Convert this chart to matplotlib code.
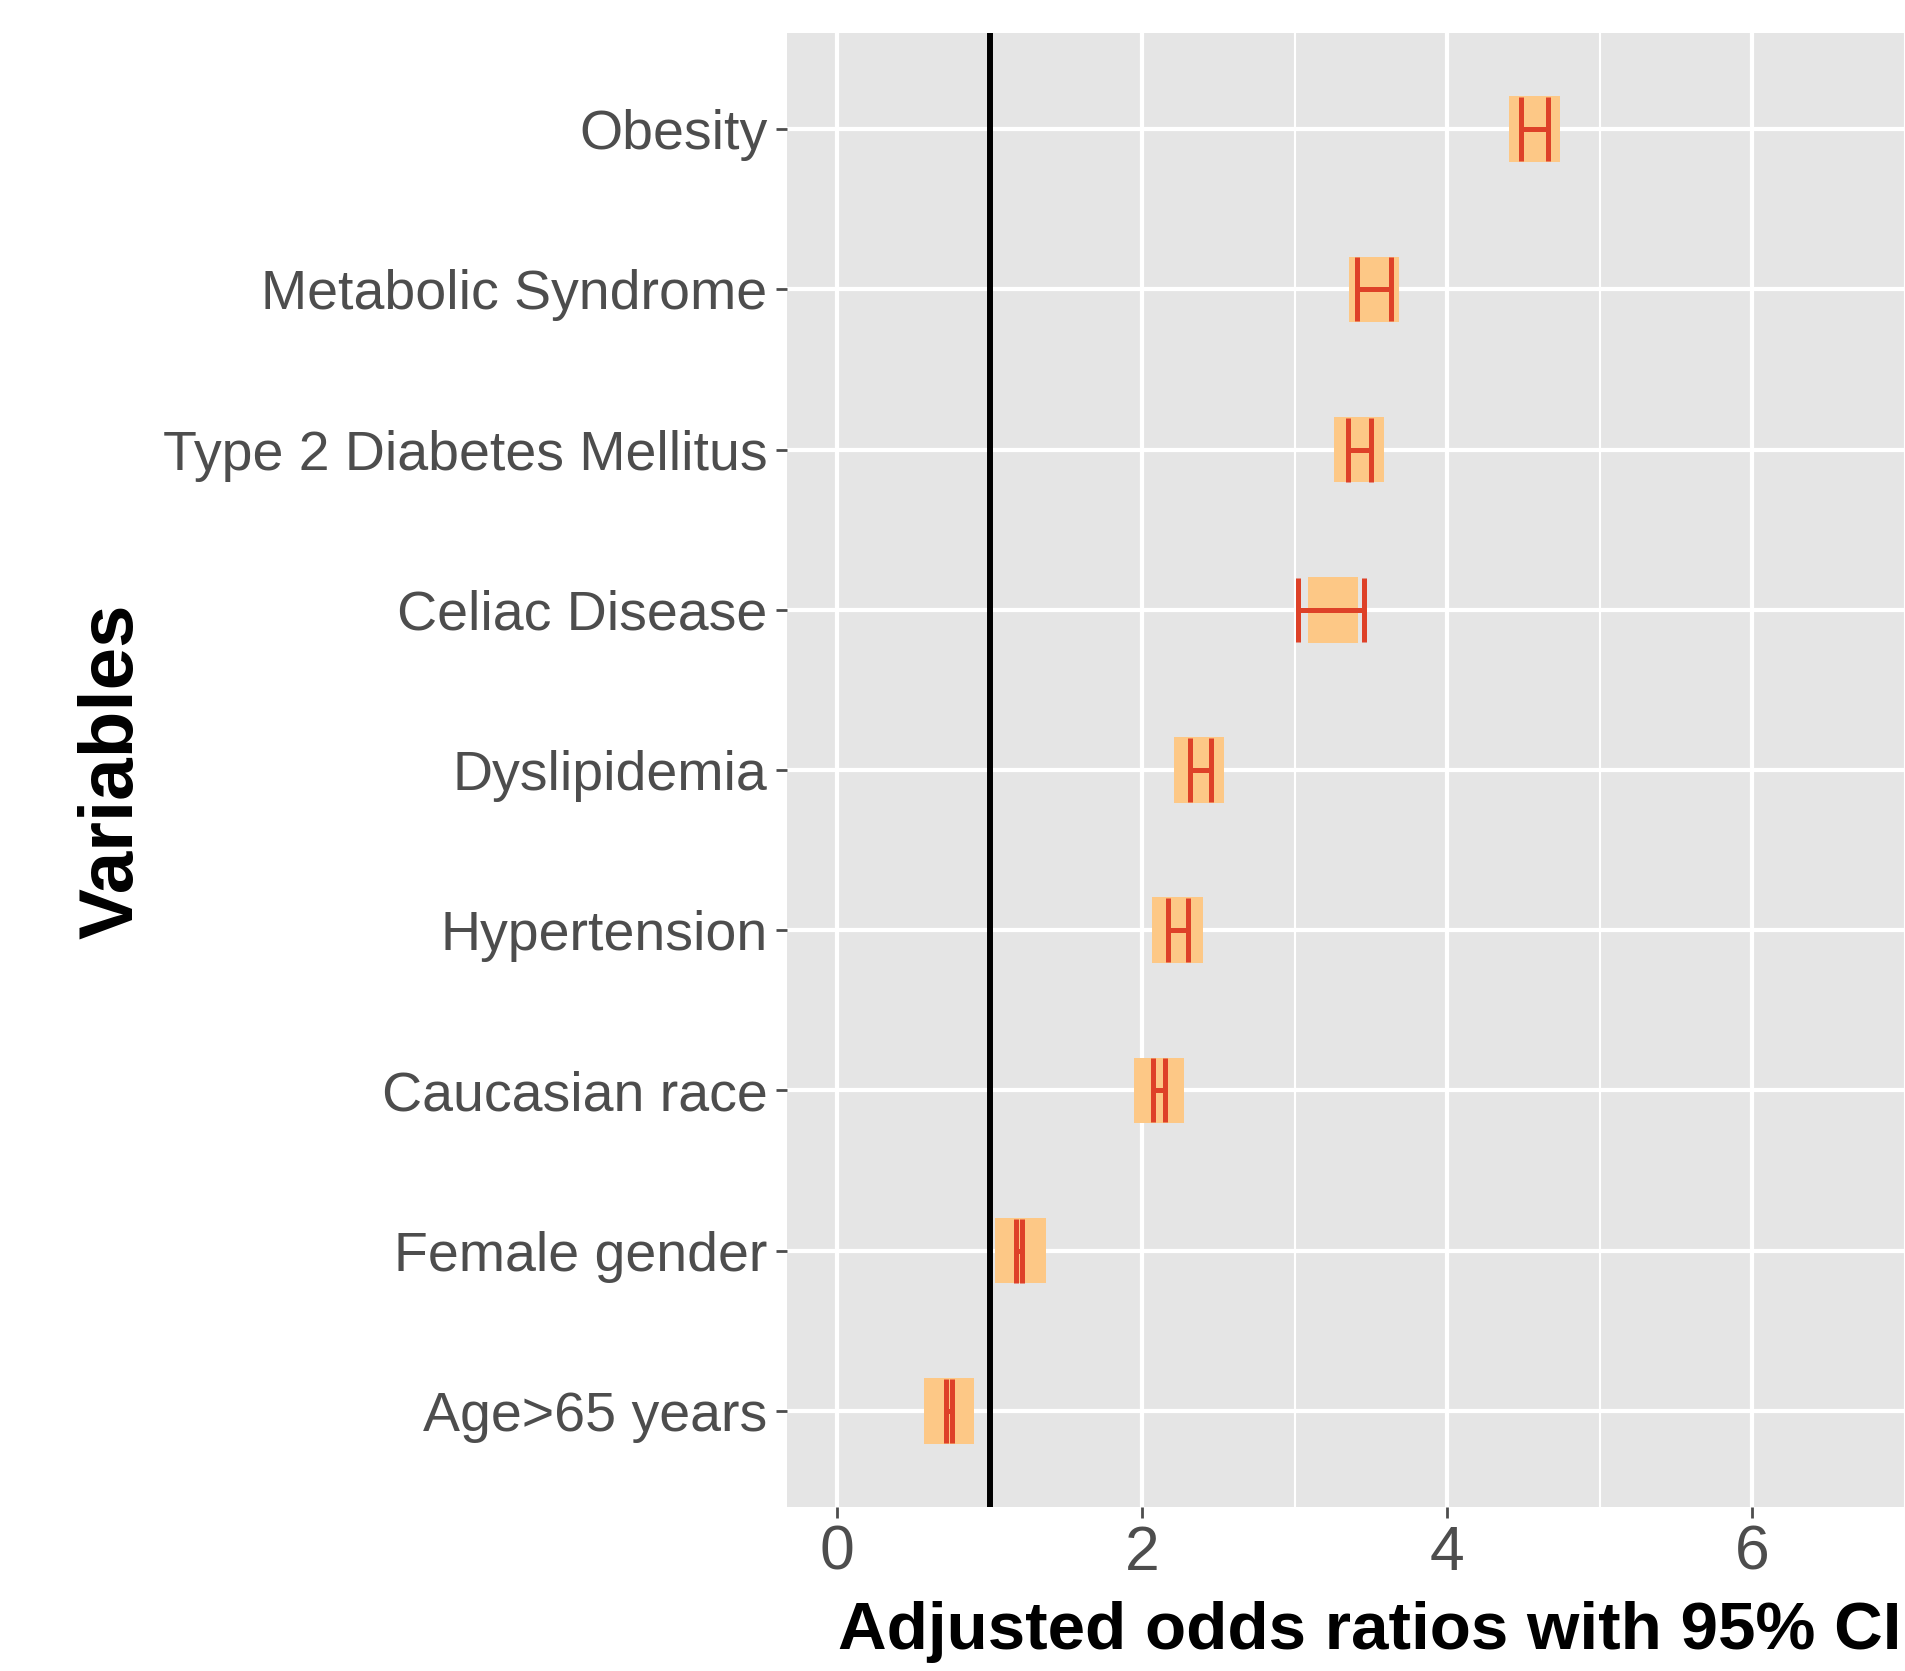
import matplotlib
matplotlib.use("Agg")
import matplotlib.pyplot as plt
import numpy as np

variables = ["Obesity", "Metabolic Syndrome", "Type 2 Diabetes Mellitus", "Celiac Disease",
             "Dyslipidemia", "Hypertension", "Caucasian race", "Female gender", "Age>65 years"]
estimate = [4.57, 3.52, 3.42, 3.25, 2.37, 2.23, 2.11, 1.20, 0.73]
lower = [4.48, 3.41, 3.35, 3.02, 2.31, 2.17, 2.07, 1.17, 0.71]
upper = [4.66, 3.63, 3.50, 3.45, 2.45, 2.30, 2.15, 1.21, 0.75]
x_ticks = [0, 2, 4, 6]
ref_line = 1

fam = "Liberation Sans"

W, H, DPI = 1905, 1671, 100
fig = plt.figure(figsize=(W / DPI, H / DPI), dpi=DPI)
ax = fig.add_axes([787 / W, 1 - 1507 / H, 1 - 787 / W, (1507 - 33) / H])
ax.set_facecolor("#E5E5E5")
for s in ax.spines.values():
    s.set_visible(False)

y = np.arange(len(variables))
est = np.array(estimate)
box_w = 0.33
ax.barh(y, box_w, left=est - box_w / 2, height=0.41, color="#FDC886", zorder=3, linewidth=0)
lo = np.array(lower); hi = np.array(upper)
ax.hlines(y, lo, hi, color="#DE4128", lw=3.6, zorder=4)
ax.vlines(lo, y - 0.2, y + 0.2, color="#DE4128", lw=3.6, zorder=4)
ax.vlines(hi, y - 0.2, y + 0.2, color="#DE4128", lw=3.6, zorder=4)

ax.axvline(ref_line, color="black", lw=4.3, zorder=5)

ax.set_xlim(-0.33, 7.0)
ax.set_ylim(len(variables) - 0.4, -0.6)
ax.set_xticks(x_ticks)
ax.set_xticks([1, 3, 5, 7], minor=True)
ax.set_yticks(y)
ax.set_yticklabels(variables)
ax.grid(which="major", color="white", lw=3.0, zorder=1)
ax.grid(which="minor", axis="x", color="white", lw=1.5, zorder=1)
ax.set_axisbelow(True)
ax.tick_params(axis="both", which="major", length=8, width=2, color="#4D4D4D",
               labelcolor="#4D4D4D", pad=6)
ax.tick_params(axis="y", labelsize=40)
ax.tick_params(axis="x", labelsize=45, pad=4)
ax.tick_params(axis="x", which="minor", length=0)
for lab in ax.get_xticklabels() + ax.get_yticklabels():
    lab.set_family(fam)

fig.text(1370 / W, 1 - 1632 / H, "Adjusted odds ratios with 95% CI", ha="center", va="center",
         fontsize=48.5, fontweight="bold", family=fam, color="black")
fig.text(113 / W, 1 - 771 / H, "Variables", ha="center", va="center", rotation=90,
         fontsize=55, fontweight="bold", family=fam, color="black")

fig.savefig("out.png", dpi=DPI)
